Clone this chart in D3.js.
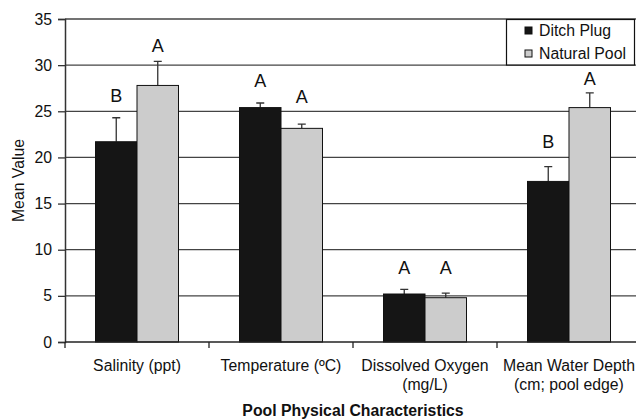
<!DOCTYPE html>
<html>
<head>
<meta charset="utf-8">
<script src="https://cdn.jsdelivr.net/npm/d3@7"></script>
<style>
  body { margin: 0; background: #fff; }
  svg text { font-family: "Liberation Sans", Arial, sans-serif; fill: #111; }
</style>
</head>
<body>
<div id="chart"></div>
<script>
// data
var categories = [["Salinity (ppt)"], ["Temperature (ºC)"], ["Dissolved Oxygen", "(mg/L)"], ["Mean Water Depth", "(cm; pool edge)"]];
var seriesNames = ["Ditch Plug", "Natural Pool"];
var ditchPlug = [21.7, 25.4, 5.2, 17.4];
var ditchPlugErr = [2.6, 0.5, 0.5, 1.6];
var naturalPool = [27.8, 23.15, 4.8, 25.4];
var naturalPoolErr = [2.6, 0.45, 0.5, 1.6];
var ditchLetters = ["B", "A", "A", "B"];
var naturalLetters = ["A", "A", "A", "A"];
// height (in value units) where each letter sits
var ditchLetterAt = [26.0, 27.6, 7.4, 21.0];
var naturalLetterAt = [31.45, 25.9, 7.4, 27.8];
var yTicks = [0, 5, 10, 15, 20, 25, 30, 35];

var width = 636, height = 420;
var plotLeft = 65, plotRight = 641, plotTop = 19, plotBottom = 342;
var colors = ["#151515", "#cccccc"];
var fontSize = 15.8;

var svg = d3.select('#chart').append('svg')
  .attr('width', width)
  .attr('height', height);

var x = d3.scaleBand()
  .domain(d3.range(categories.length))
  .range([plotLeft, plotRight]);

var xInner = d3.scaleBand()
  .domain([0, 1])
  .range([30.5, x.bandwidth() - 30.5]);

var y = d3.scaleLinear()
  .domain([0, 35])
  .range([plotBottom, plotTop]);

// gridlines
svg.append('g').selectAll('line')
  .data(yTicks.filter(d => d > 0))
  .enter().append('line')
  .attr('x1', plotLeft).attr('x2', plotRight)
  .attr('y1', d => y(d)).attr('y2', d => y(d))
  .attr('stroke', '#444').attr('stroke-width', 1.3);

// y axis
var yAxis = svg.append('g')
  .attr('transform', 'translate(' + plotLeft + ',0)')
  .call(d3.axisLeft(y).tickValues(yTicks).tickSize(7).tickPadding(6));
yAxis.select('.domain').attr('stroke', '#333').attr('stroke-width', 1.5);
yAxis.selectAll('.tick line').attr('stroke', '#333').attr('stroke-width', 1.3);
yAxis.selectAll('.tick text')
  .attr('font-size', fontSize).attr('fill', '#111')
  .attr('font-family', '"Liberation Sans", Arial, sans-serif');

var rows = categories.map((c, i) => ({
  i: i,
  vals: [
    {s: 0, v: ditchPlug[i], e: ditchPlugErr[i], l: ditchLetters[i], la: ditchLetterAt[i]},
    {s: 1, v: naturalPool[i], e: naturalPoolErr[i], l: naturalLetters[i], la: naturalLetterAt[i]}
  ]
}));

var groups = svg.append('g').selectAll('g')
  .data(rows)
  .enter().append('g')
  .attr('transform', d => 'translate(' + x(d.i) + ',0)');

// error bars (upper only)
groups.selectAll('.err')
  .data(d => d.vals)
  .enter().append('path')
  .attr('class', 'err')
  .attr('d', d => {
    var cx = xInner(d.s) + xInner.bandwidth() / 2;
    return 'M' + cx + ',' + y(d.v) + 'V' + y(d.v + d.e) +
      'M' + (cx - 4) + ',' + y(d.v + d.e) + 'H' + (cx + 4);
  })
  .attr('stroke', '#333').attr('stroke-width', 1.3).attr('fill', 'none');

groups.selectAll('rect')
  .data(d => d.vals)
  .enter().append('rect')
  .attr('x', d => xInner(d.s))
  .attr('y', d => y(d.v))
  .attr('width', xInner.bandwidth())
  .attr('height', d => y(0) - y(d.v))
  .attr('fill', d => colors[d.s])
  .attr('stroke', '#111').attr('stroke-width', 1);

groups.selectAll('.letter')
  .data(d => d.vals)
  .enter().append('text')
  .attr('class', 'letter')
  .attr('x', d => xInner(d.s) + xInner.bandwidth() / 2)
  .attr('y', d => y(d.la))
  .attr('text-anchor', 'middle')
  .attr('font-size', 18)
  .text(d => d.l);

// x axis
svg.append('line')
  .attr('x1', plotLeft).attr('x2', plotRight)
  .attr('y1', plotBottom).attr('y2', plotBottom)
  .attr('stroke', '#222').attr('stroke-width', 1.5);
svg.append('g').selectAll('line')
  .data(d3.range(categories.length))
  .enter().append('line')
  .attr('x1', d => x(d)).attr('x2', d => x(d))
  .attr('y1', plotBottom).attr('y2', plotBottom + 6)
  .attr('stroke', '#222').attr('stroke-width', 1.3);

svg.append('g').selectAll('text')
  .data(rows)
  .enter().append('text')
  .attr('x', d => x(d.i) + x.bandwidth() / 2)
  .attr('y', 370.5)
  .attr('text-anchor', 'middle')
  .attr('font-size', fontSize)
  .selectAll('tspan')
  .data(d => categories[d.i])
  .enter().append('tspan')
  .attr('x', function() { return this.parentNode.getAttribute('x'); })
  .attr('dy', (d, i) => i === 0 ? 0 : 19.5)
  .text(d => d);

// axis titles
svg.append('text')
  .attr('x', (plotLeft + plotRight) / 2)
  .attr('y', 416)
  .attr('text-anchor', 'middle')
  .attr('font-size', fontSize)
  .attr('font-weight', 'bold')
  .text('Pool Physical Characteristics');

svg.append('text')
  .attr('transform', 'translate(24,' + ((plotTop + plotBottom) / 2) + ') rotate(-90)')
  .attr('text-anchor', 'middle')
  .attr('font-size', fontSize)
  .text('Mean Value');

// legend
var legend = svg.append('g');
legend.append('rect')
  .attr('x', 506.5).attr('y', 19.5)
  .attr('width', 128).attr('height', 45.5)
  .attr('fill', '#fff').attr('stroke', '#111').attr('stroke-width', 1.2);
var items = legend.selectAll('g')
  .data(seriesNames)
  .enter().append('g')
  .attr('transform', (d, i) => 'translate(525,' + (27 + i * 23) + ')');
items.append('rect')
  .attr('width', 7).attr('height', 7)
  .attr('fill', (d, i) => colors[i])
  .attr('stroke', '#111').attr('stroke-width', 1);
items.append('text')
  .attr('x', 14).attr('y', 8.5)
  .attr('font-size', fontSize)
  .text(d => d);
</script>
</body>
</html>
